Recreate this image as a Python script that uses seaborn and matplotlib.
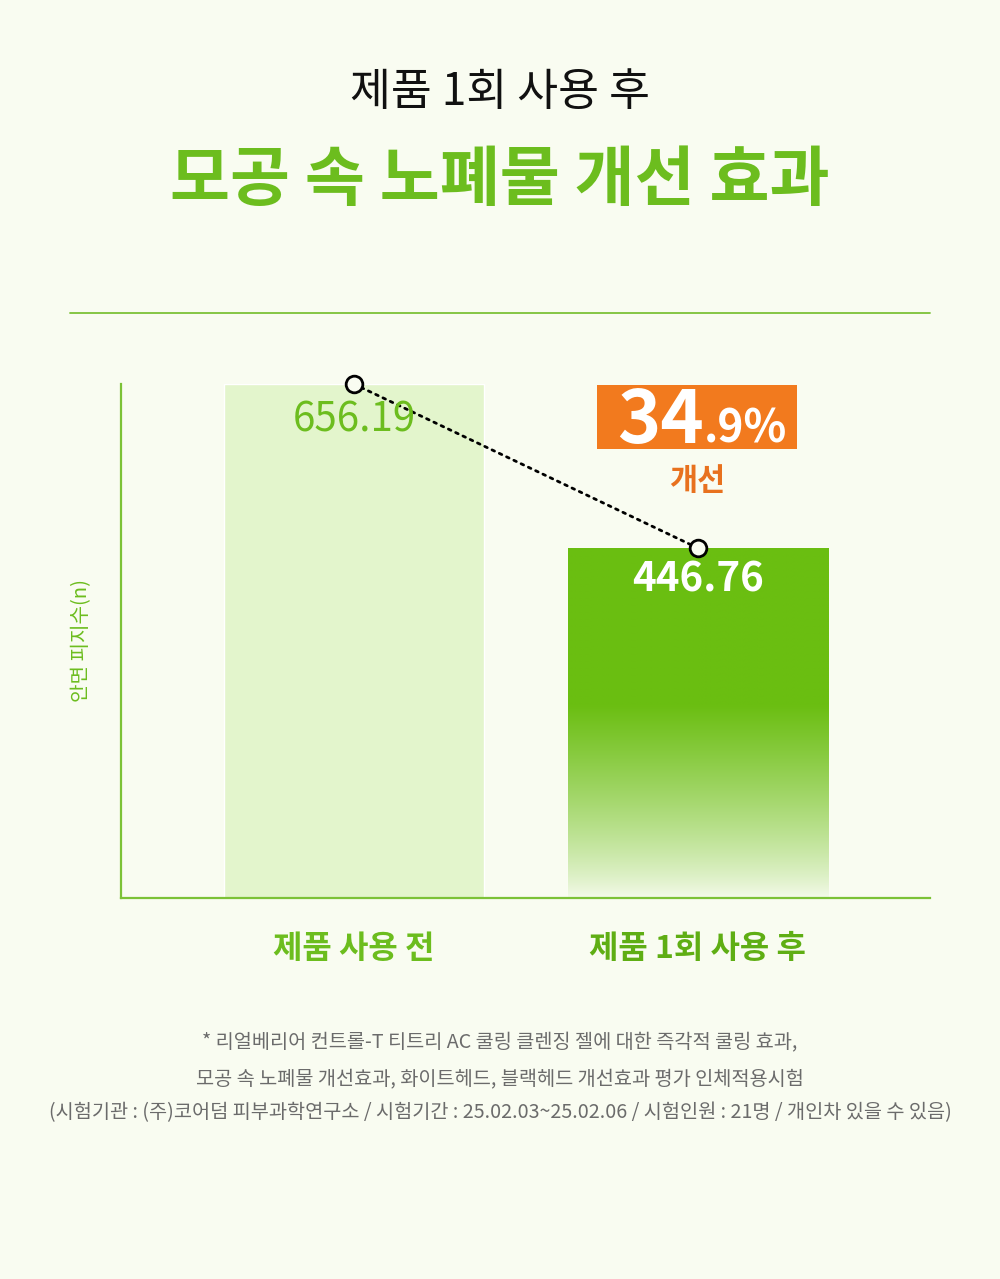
import matplotlib
matplotlib.use("Agg")
import matplotlib.pyplot as plt
import matplotlib.patches as mpatches
import numpy as np
import seaborn as sns
import pandas as pd

# 데이터
categories = ['제품 사용 전', '제품 1회 사용 후']
sebum_values = [656.19, 446.76]
value_labels = ['656.19', '446.76']
improve_main = '34'
improve_frac = '.9%'
improve_word = '개선'

title_top = '제품 1회 사용 후'
title_main = '모공 속 노폐물 개선 효과'
y_label = '안면 피지수(n)'
footnotes = [
    '* 리얼베리어 컨트롤-T 티트리 AC 쿨링 클렌징 젤에 대한 즉각적 쿨링 효과,',
    '모공 속 노폐물 개선효과, 화이트헤드, 블랙헤드 개선효과 평가 인체적용시험',
    '(시험기관 : (주)코어덤 피부과학연구소 / 시험기간 : 25.02.03~25.02.06 / 시험인원 : 21명 / 개인차 있을 수 있음)',
]

# 스타일
bg = '#F9FCF1'
green = '#6CBD1E'
green_line = '#7CC237'
bar_light = '#E3F5CC'
bar_dark = '#6BBE12'
orange = '#F27A1E'
orange_txt = '#E8711E'

sns.set_theme(style='white')
plt.rcParams['font.family'] = ['Noto Sans CJK KR', 'DejaVu Sans']

W, H = 1000, 1279
fig = plt.figure(figsize=(W / 100, H / 100), dpi=100, facecolor=bg)


def fx(px):
    return px / W


def fy(py):
    return 1 - py / H


ax = fig.add_axes([fx(121), fy(898), fx(930) - fx(121), fy(384) - fy(898)])
ax.set_facecolor(bg)

df = pd.DataFrame({'group': categories, 'value': sebum_values})
sns.barplot(data=df, x='group', y='value', hue='group',
            palette=[bar_light, bar_dark], width=0.756, legend=False,
            saturation=1, ax=ax)

bars = ax.patches
# 두 번째 막대: 아래로 갈수록 옅어지는 그라데이션
b2 = bars[1]
x0, w, h = b2.get_x(), b2.get_width(), b2.get_height()
top_rgb = np.array(matplotlib.colors.to_rgb(bar_dark))
bot_rgb = np.array(matplotlib.colors.to_rgb('#F5FBEC'))
frac = np.linspace(0, 1, 300)
t = np.clip(frac / 0.55, 0, 1) ** 0.8
grad = bot_rgb + (top_rgb - bot_rgb) * t[:, None]
img = ax.imshow(grad[:, None, :], extent=[x0, x0 + w, 0, h], origin='lower',
                aspect='auto', zorder=2)
img.set_clip_path(b2)
b2.set_facecolor('none')

ax.set_xlim(-0.677, 1.675)
ax.set_ylim(0, sebum_values[0])

# 연결 점선과 원형 마커
ax.plot([0, 1], sebum_values, color='black', lw=2, dashes=(1, 1.9),
        dash_capstyle='round', zorder=4)
ax.plot([0, 1], sebum_values, ls='none', marker='o', markersize=12,
        markerfacecolor=bg, markeredgecolor='black', markeredgewidth=2,
        zorder=5, clip_on=False)

# 값 라벨
ax.annotate(value_labels[0], (0, sebum_values[0]), xytext=(0, -36),
            textcoords='offset pixels', ha='center', va='center',
            fontsize=29, color=green, zorder=6)
ax.annotate(value_labels[1], (1, sebum_values[1]), xytext=(0, -32),
            textcoords='offset pixels', ha='center', va='center',
            fontsize=29, color='white', fontweight='bold', zorder=6)

# 축 스타일
for s in ['top', 'right']:
    ax.spines[s].set_visible(False)
for s in ['left', 'bottom']:
    ax.spines[s].set_color(green_line)
    ax.spines[s].set_linewidth(1.6)
ax.set_yticks([])
ax.set_xlabel('')
ax.set_ylabel('')
ax.tick_params(axis='x', length=0, pad=25)
ax.set_xticks([0, 1])
ax.set_xticklabels(categories, fontsize=23, fontweight='bold', color=green)
ax.get_xticklabels()[1].set_color('#5FAE14')

fig.text(fx(82), fy(640), y_label, rotation=90, ha='center', va='center',
         fontsize=14.5, color=green)

# 제목
fig.text(0.5, fy(92), title_top, ha='center', va='center', fontsize=32,
         color='#111111')
fig.text(0.5, fy(180), title_main, ha='center', va='center', fontsize=47,
         color=green, fontweight='black')
fig.add_artist(plt.Line2D([fx(70), fx(930)], [fy(313), fy(313)],
                          color=green_line, lw=1.3, transform=fig.transFigure))

# 개선율 배지
fig.add_artist(mpatches.Rectangle((fx(597), fy(449)), fx(797) - fx(597),
                                  fy(385) - fy(449), facecolor=orange,
                                  edgecolor='none', transform=fig.transFigure))
fig.text(fx(704), fy(443), improve_main, ha='right', va='baseline', fontsize=53,
         color='white', fontweight='heavy')
fig.text(fx(704), fy(443), improve_frac, ha='left', va='baseline', fontsize=32,
         color='white', fontweight='heavy')
fig.text(fx(697), fy(481), improve_word, ha='center', va='center', fontsize=22,
         color=orange_txt, fontweight='bold')

# 주석
for yy, line in zip([1043, 1080, 1113], footnotes):
    fig.text(0.5, fy(yy), line, ha='center', va='center', fontsize=14.2,
             color='#6B6B6B')

fig.savefig('out.png', dpi=100, facecolor=bg)
